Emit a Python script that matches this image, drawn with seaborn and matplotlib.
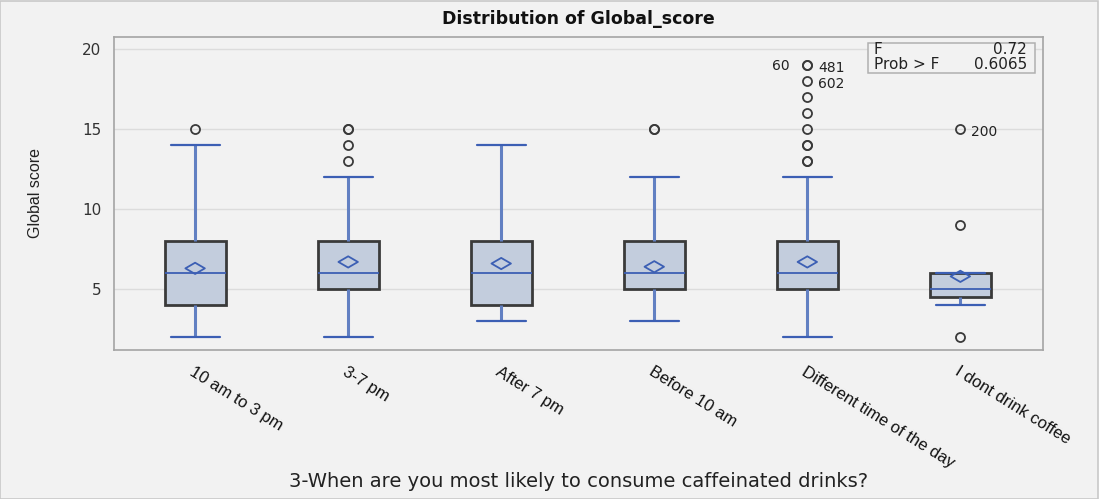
import numpy as np
import pandas as pd
import matplotlib
matplotlib.use("Agg")
import matplotlib.pyplot as plt
import seaborn as sns
from matplotlib.path import Path
from matplotlib.patches import Rectangle

# ---------------- data ----------------
categories = ["10 am to 3 pm", "3-7 pm", "After 7 pm", "Before 10 am",
              "Different time of the day", "I dont drink coffee"]
q1 = [4, 5, 4, 5, 5, 4.5]
median = [6, 6, 6, 6, 6, 5]
q3 = [8, 8, 8, 8, 8, 6]
whisker_low = [2, 2, 3, 3, 2, 4]
whisker_high = [14, 12, 14, 12, 12, 6]
outliers = [[15], [13, 14, 15, 15], [], [15, 15],
            [13, 13, 14, 14, 15, 16, 17, 18, 19, 19], [2, 9, 15]]
means = [6.3, 6.7, 6.6, 6.4, 6.7, 5.8]
label_groups = [4, 4, 4, 5]
label_values = [19, 19, 18, 15]
label_texts = ["60", "481", "602", "200"]
label_sides = ["left", "right", "right", "right"]
f_value = "0.72"
p_value = "0.6065"
title = "Distribution of Global_score"
xlabel = "3-When are you most likely to consume caffeinated drinks?"
ylabel = "Global score"
yticks = [5, 10, 15, 20]

# Build a sample per group that reproduces the read box statistics
rows = []
for cat, a, m, b, lo, hi, out in zip(categories, q1, median, q3,
                                     whisker_low, whisker_high, outliers):
    sample = [lo] + [a] * 20 + [m] * 20 + [b] * 20 + [hi] + list(out)
    rows += [(cat, v) for v in sample]
df = pd.DataFrame(rows, columns=["group", "score"])
mean_df = pd.DataFrame({"group": categories, "score": means})

# ---------------- style ----------------
sns.set_style("white")
narrow = ["Liberation Sans Narrow", "Liberation Sans", "DejaVu Sans"]
plt.rcParams["font.family"] = ["DejaVu Sans"]

bg = "#f2f2f2"
box_fill = "#c3cddd"
box_edge = "#3a3a3a"
blue = "#3c5fb4"
whisk = "#6280c2"
spine = "#a5a5a5"

fig = plt.figure(figsize=(10.99, 4.99), dpi=100, facecolor="white")
fig.patches.append(Rectangle((0.0, 0.0), 1097.5 / 1099, 0.998, transform=fig.transFigure,
                             facecolor=bg, edgecolor="#c8c8c8", linewidth=1.2, zorder=-10))
ax = fig.add_axes([114 / 1099, 1 - 350 / 499, (1043 - 114) / 1099, (350 - 37) / 499])
ax.set_facecolor(bg)

sns.boxplot(data=df, x="group", y="score", order=categories, ax=ax,
            width=0.4, whis=1.5, color=box_fill, fill=True,
            linecolor=box_edge, linewidth=1.6, fliersize=6,
            capwidths=0.32,
            boxprops=dict(facecolor=box_fill, edgecolor=box_edge, linewidth=2.0),
            medianprops=dict(color=blue, linewidth=1.3),
            whiskerprops=dict(color=whisk, linewidth=2.2),
            capprops=dict(color=blue, linewidth=1.6),
            flierprops=dict(marker="o", markerfacecolor="none",
                            markeredgecolor="#3a3a3a", markeredgewidth=1.3,
                            markersize=6.5))

diamond = Path([(-1, 0), (0, 0.58), (1, 0), (0, -0.58), (-1, 0)],
               [Path.MOVETO, Path.LINETO, Path.LINETO, Path.LINETO, Path.CLOSEPOLY])
sns.stripplot(data=mean_df, x="group", y="score", order=categories, ax=ax,
              jitter=False, marker=diamond, s=14, facecolor="none",
              edgecolor=blue, linewidth=1.3, zorder=5)

ax.set_xlim(-0.53, 5.54)
ax.set_ylim(1.2, 20.75)
ax.set_yticks(yticks)
ax.set_yticklabels([str(t) for t in yticks], fontsize=11, color="#333333")
ax.grid(axis="y", color="#dcdcdc", linewidth=1)
ax.set_axisbelow(True)
for s in ax.spines.values():
    s.set_color(spine)
    s.set_linewidth(1.2)
ax.tick_params(axis="both", direction="out", length=6, width=1.2, color=spine)
ax.tick_params(axis="y", pad=3)
ax.set_xticks(range(len(categories)))
ax.set_xticklabels(categories, rotation=-32, ha="left", va="top",
                   rotation_mode="anchor", fontsize=12, family=narrow, color="#111111")
ax.tick_params(axis="x", pad=4)

ax.set_title(title, fontsize=12.5, fontweight="bold", pad=9, color="#111111")
ax.set_xlabel(xlabel, fontsize=14, color="#222222")
ax.xaxis.set_label_coords(0.5, -0.39)
ax.set_ylabel(ylabel, fontsize=11.5, family=narrow, color="#222222")
ax.yaxis.set_label_coords(-0.0764, 0.5)

# outlier labels
for g, v, t, side in zip(label_groups, label_values, label_texts, label_sides):
    if side == "right":
        ax.annotate(t, (g, v), xytext=(8, -2), textcoords="offset points",
                    ha="left", va="center", fontsize=10, color="#222222")
    else:
        ax.annotate(t, (g, v), xytext=(-13, -1), textcoords="offset points",
                    ha="right", va="center", fontsize=10, color="#222222")

# statistics inset
ax.add_patch(Rectangle((0.8116, 0.885), 0.9914 - 0.8116, 0.981 - 0.885,
                       transform=ax.transAxes, facecolor=bg, edgecolor="#b0b0b0",
                       linewidth=1.1, zorder=6))
for yy, lab, val in [(0.960, "F", f_value), (0.912, "Prob > F", p_value)]:
    ax.text(0.818, yy, lab, transform=ax.transAxes, ha="left", va="center",
            fontsize=11, color="#222222", zorder=7)
    ax.text(0.9828, yy, val, transform=ax.transAxes, ha="right", va="center",
            fontsize=11, color="#222222", zorder=7)

fig.savefig("out.png", dpi=100, facecolor="white")
